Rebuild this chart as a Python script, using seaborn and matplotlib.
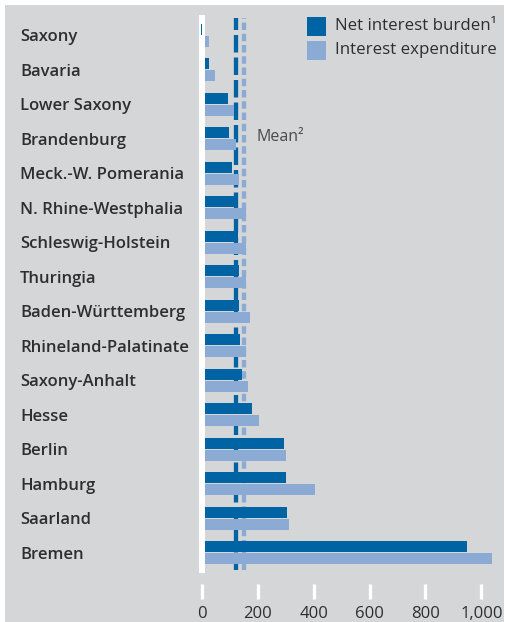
import matplotlib
matplotlib.use("Agg")
import matplotlib.pyplot as plt
import seaborn as sns
import pandas as pd
from matplotlib.patches import Rectangle

states = ["Saxony", "Bavaria", "Lower Saxony", "Brandenburg", "Meck.-W. Pomerania",
          "N. Rhine-Westphalia", "Schleswig-Holstein", "Thuringia", "Baden-Württemberg",
          "Rhineland-Palatinate", "Saxony-Anhalt", "Hesse", "Berlin", "Hamburg",
          "Saarland", "Bremen"]
net_interest_burden = [-5, 25, 94, 98, 106, 116, 128, 131, 134, 136, 143, 180, 292, 301, 304, 948]
interest_expenditure = [25, 46, 113, 122, 134, 158, 158, 158, 171, 157, 165, 203, 302, 403, 311, 1038]
series_names = ["Net interest burden¹", "Interest expenditure"]
mean_net = 122
mean_exp = 152
x_ticks = [0, 200, 400, 600, 800, 1000]
x_tick_labels = ["0", "200", "400", "600", "800", "1,000"]

DARK = "#0063a3"
LIGHT = "#8cabd4"
BG = "#d5d6d8"
TXT = "#2e2e2e"

sns.set_theme(style="white")
plt.rcParams["font.family"] = ["Open Sans", "DejaVu Sans"]
plt.rcParams["lines.scale_dashes"] = False

df = pd.DataFrame({
    "state": states * 2,
    "value": net_interest_burden + interest_expenditure,
    "series": [series_names[0]] * len(states) + [series_names[1]] * len(states),
})

W, H = 506, 622
fig = plt.figure(figsize=(W / 100, H / 100), dpi=100, facecolor="white")
fig.add_artist(Rectangle((5 / W, 0), (504 - 5) / W, (H - 5) / H, transform=fig.transFigure,
                         facecolor=BG, edgecolor="none", zorder=0))

ax_left, ax_right, ax_top, ax_bot = 202, 500, 18, 570
ax = fig.add_axes([ax_left / W, 1 - ax_bot / H, (ax_right - ax_left) / W, (ax_bot - ax_top) / H])
ax.set_facecolor("none")

sns.barplot(data=df, x="value", y="state", hue="series", orient="h",
            palette=[DARK, LIGHT], width=0.7, gap=0.12, legend=False, ax=ax,
            saturation=1)

px_per_unit = (481.3 - 202) / 1000
ax.set_xlim(0, (ax_right - ax_left) / px_per_unit)
ax.set_ylim(15.5, -0.5)

# mean lines
ax.axvline(mean_net, color=DARK, lw=3.1, dashes=(12.6, 3.6), zorder=1)
ax.axvline(mean_exp, color=LIGHT, lw=3.1, dashes=(5.4, 2.7), zorder=1)
ax.text((256 - 202) / px_per_unit, 2.95, "Mean²", color="#4a4a4a", fontsize=11.5,
        va="center", ha="left")

for p in ax.patches:
    p.set_zorder(2)
    p.set_edgecolor("none")
    p.set_clip_on(False)
# tiny negative bar for Saxony sits above the white axis strip
for p in ax.patches:
    if p.get_width() < 0:
        p.set_zorder(5)

# spines
for s in ["top", "right", "bottom"]:
    ax.spines[s].set_visible(False)
ax.spines["left"].set_color("white")
ax.spines["left"].set_linewidth(4.3)
ax.spines["left"].set_zorder(4)
ax.spines["bottom"].set_position(("outward", 10))

ax.set_xticks(x_ticks)
ax.set_xticklabels(x_tick_labels)
ax.tick_params(axis="x", length=11, width=2.4, color="white", direction="out",
               labelsize=12, labelcolor=TXT, pad=5, bottom=True)
ax.tick_params(axis="y", length=0, pad=(202 - 20) * 0.72, labelsize=12, labelcolor=TXT)
for lab in ax.get_yticklabels():
    lab.set_horizontalalignment("left")
    lab.set_fontweight("semibold")
ax.set_xlabel("")
ax.set_ylabel("")
ax.grid(False)

# legend (manual)
for (y0, col, name) in [(17, DARK, series_names[0]), (41, LIGHT, series_names[1])]:
    fig.add_artist(Rectangle((307 / W, 1 - (y0 + 19) / H), 19 / W, 19 / H,
                             transform=fig.transFigure, facecolor=col, edgecolor="none"))
    fig.text(335 / W, 1 - (y0 + 9.5) / H, name, fontsize=12.2, color=TXT,
             va="center", ha="left")

fig.savefig("out.png", dpi=100, facecolor="white")
